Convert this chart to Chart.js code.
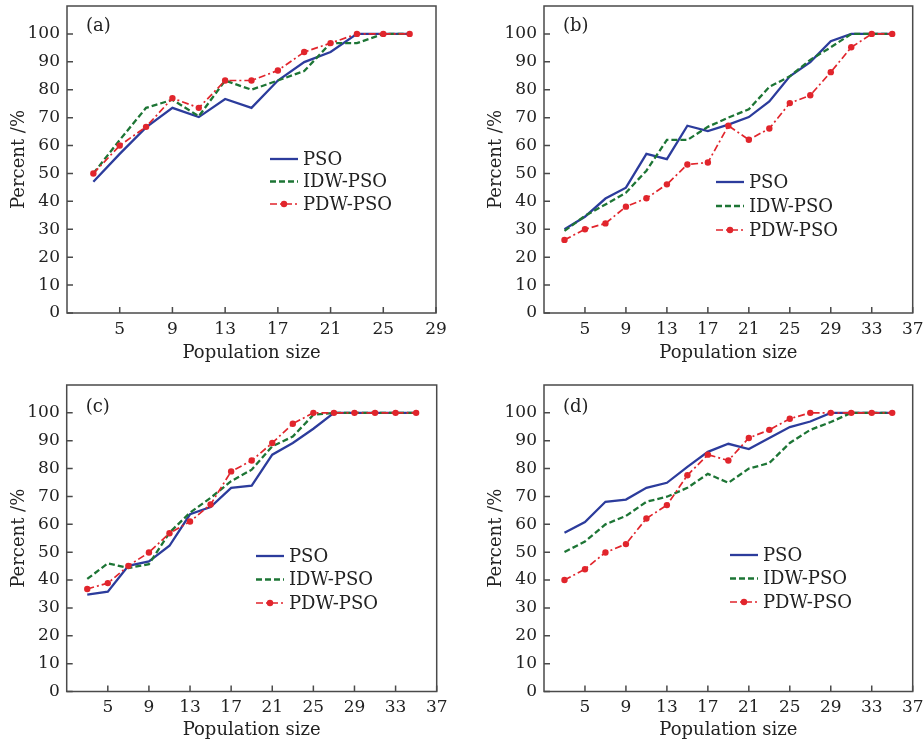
<!DOCTYPE html>
<html><head><meta charset="utf-8">
<script src="https://cdn.jsdelivr.net/npm/chart.js@4/dist/chart.umd.min.js"></script>
<style>
html,body{margin:0;padding:0;background:#fff;overflow:hidden;width:924px;height:743px;position:relative;}
canvas{position:absolute;}
</style></head><body>
<canvas id="ca" width="462" height="371" style="left:0;top:0"></canvas>
<canvas id="cb" width="480" height="371" style="left:462px;top:0"></canvas>
<canvas id="cc" width="462" height="372" style="left:0;top:371px"></canvas>
<canvas id="cd" width="480" height="372" style="left:462px;top:371px"></canvas>
<script>
// ---- data ----
const popA = [3,5,7,9,11,13,15,17,19,21,23,25,27];
const psoA = [47,57,66.5,73.5,70.2,76.7,73.5,83.3,89.9,93.5,100,100,100];
const idwA = [50,62,73.5,76.4,70.5,83.3,80,83.3,86.7,96.7,96.7,100,100];
const pdwA = [50,60,66.7,77,73.5,83.3,83.3,86.9,93.5,96.7,100,100,100];
const xTicksA = [5,9,13,17,21,25,29];

const popBCD = [3,5,7,9,11,13,15,17,19,21,23,25,27,29,31,33,35];
const psoB = [30,34.5,41,44.9,57,55.1,67.1,65.2,67.5,70.2,75.8,84.8,89.9,97.4,100,100,100];
const idwB = [29.4,34.8,38.9,43.1,51,62,62,66.7,70,73,81,84.8,90.7,95.2,100,100,100];
const pdwB = [26.2,30,32.1,38.1,41.1,46.1,53.2,53.9,67.1,62.1,66.1,75.2,78,86.3,95.2,100,100];

const psoC = [34.8,35.8,45.1,46.7,52.3,63.6,66.2,73.1,73.9,85,89.2,94.3,100,100,100,100,100];
const idwC = [40.4,46,44.3,45.7,57,64.2,69.5,75.5,79.6,88,91.5,99.3,100,100,100,100,100];
const pdwC = [36.8,38.9,45.1,49.9,56.8,61,67.1,79,82.9,89.2,96.1,100,100,100,100,100,100];

const psoD = [57,60.8,68.1,68.9,73.1,74.9,80.6,86,88.9,87,91,94.9,96.9,100,100,100,100];
const idwD = [50.1,53.8,60,63,68.1,69.9,73.1,78.1,74.9,80,82,89.2,93.9,96.7,100,100,100];
const pdwD = [40,43.9,49.9,52.9,62.1,66.9,77.6,85,82.9,91,93.9,97.9,100,100,100,100,100];
const xTicksBCD = [5,9,13,17,21,25,29,33,37];

const yTicks = [0,10,20,30,40,50,60,70,80,90,100];
const seriesNames = ['PSO','IDW-PSO','PDW-PSO'];
const panelLabels = ['(a)','(b)','(c)','(d)'];

// ---- styling ----
const FONT = '"DejaVu Serif", serif';
const TXT = '#222';
const FRAME = '#4a4a4a';

const decor = {
  id: 'decor',
  afterDraw(chart, args, o) {
    const {ctx, chartArea: a, scales: {x, y}} = chart;
    ctx.save();
    ctx.strokeStyle = FRAME; ctx.lineWidth = 1.5; ctx.setLineDash([]);
    ctx.strokeRect(a.left, a.top, a.right - a.left, a.bottom - a.top);
    ctx.beginPath();
    x.ticks.forEach(t => { const px = x.getPixelForValue(t.value); ctx.moveTo(px, a.bottom); ctx.lineTo(px, a.bottom - 6); });
    y.ticks.forEach(t => { const py = y.getPixelForValue(t.value); ctx.moveTo(a.left, py); ctx.lineTo(a.left + 6, py); });
    ctx.stroke();
    ctx.fillStyle = TXT; ctx.font = '18px ' + FONT; ctx.textBaseline = 'middle'; ctx.textAlign = 'left';
    ctx.fillText(o.label, a.left + 19, a.top + o.labelDy);
    chart.data.datasets.forEach((ds, i) => {
      const lx = o.lx, ly = o.ly + i * o.step;
      ctx.save();
      ctx.strokeStyle = ds.borderColor; ctx.lineWidth = ds.borderWidth;
      ctx.setLineDash(ds.borderDash || []);
      ctx.beginPath(); ctx.moveTo(lx, ly); ctx.lineTo(lx + 28, ly); ctx.stroke();
      if (ds.pointRadius > 0) {
        ctx.setLineDash([]); ctx.fillStyle = ds.pointBackgroundColor;
        ctx.beginPath(); ctx.arc(lx + 14, ly, ds.pointRadius, 0, Math.PI * 2); ctx.fill();
      }
      ctx.restore();
      ctx.fillStyle = TXT; ctx.font = '18px ' + FONT; ctx.textBaseline = 'middle';
      ctx.fillText(ds.label, lx + 33, ly + 1);
    });
    ctx.restore();
  }
};

function pts(xs, ys) { return xs.map((v, i) => ({x: v, y: ys[i]})); }

function makeChart(id, pop, pso, idw, pdw, xTicks, xMax, o) {
  new Chart(document.getElementById(id), {
    type: 'line',
    data: { datasets: [
      {label: seriesNames[0], data: pts(pop, pso), borderColor: '#2c3c9c', borderWidth: 2.3, pointRadius: 0, tension: 0, order: 3},
      {label: seriesNames[1], data: pts(pop, idw), borderColor: '#1d7535', borderWidth: 2.3, borderDash: [6, 3], pointRadius: 0, tension: 0, order: 2},
      {label: seriesNames[2], data: pts(pop, pdw), borderColor: '#e1252c', borderWidth: 1.7, borderDash: [7, 3, 2, 3], pointRadius: 3.2, pointBackgroundColor: '#e1252c', pointBorderWidth: 0, tension: 0, order: 1}
    ]},
    options: {
      responsive: false, animation: false, events: [],
      layout: {padding: {top: o.padTop, right: o.padRight, left: 0, bottom: 0}},
      plugins: {legend: {display: false}, tooltip: {enabled: false},
        decor: {label: o.label, labelDy: o.labelDy, lx: o.lx, ly: o.ly, step: o.step}},
      scales: {
        x: {type: 'linear', min: 1, max: xMax,
          afterBuildTicks: s => { s.ticks = xTicks.map(v => ({value: v})); },
          afterFit: s => { s.height = o.xH; },
          grid: {display: false, drawTicks: false}, border: {display: false},
          ticks: {font: {family: FONT, size: 17}, color: TXT, padding: 6, autoSkip: false, maxRotation: 0},
          title: {display: true, text: 'Population size', font: {family: FONT, size: 18}, color: TXT, padding: {top: 0, bottom: o.xTitlePad}}
        },
        y: {type: 'linear', min: 0, max: 110,
          afterBuildTicks: s => { s.ticks = yTicks.map(v => ({value: v})); },
          afterFit: s => { s.width = o.yW; s.paddingTop = 0; s.paddingBottom = 0; },
          grid: {display: false, drawTicks: false}, border: {display: false},
          ticks: {font: {family: FONT, size: 17}, color: TXT, padding: 7, autoSkip: false},
          title: {display: true, text: 'Percent /%', font: {family: FONT, size: 18}, color: TXT, padding: {top: o.yTitlePad, bottom: 0}}
        }
      }
    },
    plugins: [decor]
  });
}

makeChart('ca', popA, psoA, idwA, pdwA, xTicksA, 29,
  {padTop: 6, padRight: 26, xH: 58, yW: 67, xTitlePad: 7, yTitlePad: 9, label: panelLabels[0], labelDy: 20, lx: 270, ly: 159, step: 22.5});
makeChart('cb', popBCD, psoB, idwB, pdwB, xTicksBCD, 37,
  {padTop: 6, padRight: 29.3, xH: 58, yW: 82, xTitlePad: 7, yTitlePad: 24, label: panelLabels[1], labelDy: 20, lx: 254, ly: 182, step: 24});
makeChart('cc', popBCD, psoC, idwC, pdwC, xTicksBCD, 37,
  {padTop: 14, padRight: 25.3, xH: 51.5, yW: 66.7, xTitlePad: 2, yTitlePad: 9, label: panelLabels[2], labelDy: 22, lx: 256, ly: 185, step: 23.5});
makeChart('cd', popBCD, psoD, idwD, pdwD, xTicksBCD, 37,
  {padTop: 14, padRight: 29.3, xH: 51.5, yW: 82, xTitlePad: 2, yTitlePad: 24, label: panelLabels[3], labelDy: 22, lx: 268, ly: 184, step: 23.5});
</script>
</body></html>
